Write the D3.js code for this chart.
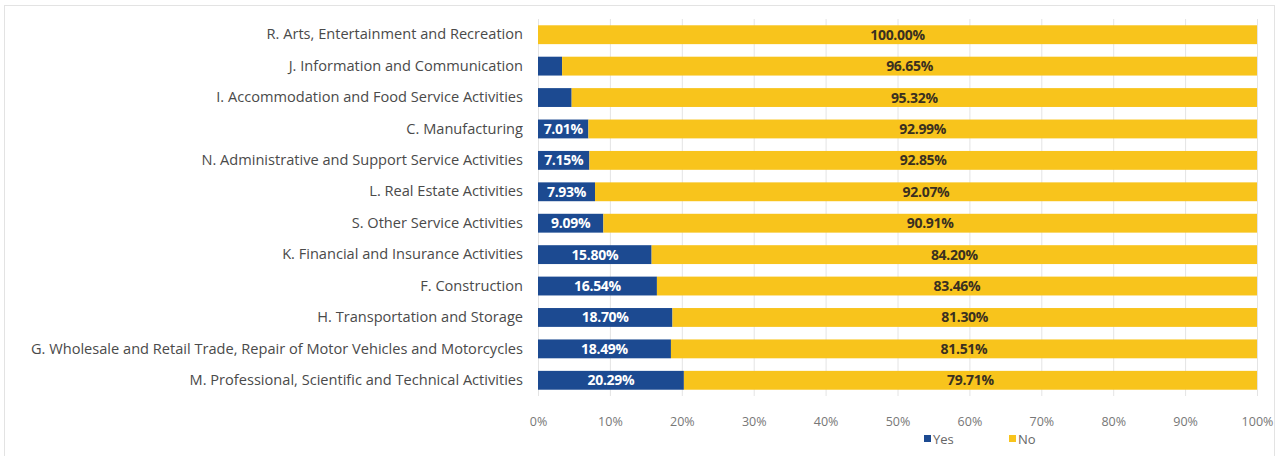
<!DOCTYPE html>
<html>
<head>
<meta charset="utf-8">
<script src="https://cdn.jsdelivr.net/npm/d3@7"></script>
<style>
  html, body { margin: 0; padding: 0; background: #fff; }
  svg { display: block; font-family: "Open Sans", "Noto Sans", sans-serif; }
</style>
</head>
<body>
<svg id="chart" width="1285" height="456"></svg>
<script>
// Industry sectors, top to bottom
const categories = [
  "R. Arts, Entertainment and Recreation",
  "J. Information and Communication",
  "I. Accommodation and Food Service Activities",
  "C. Manufacturing",
  "N. Administrative and Support Service Activities",
  "L. Real Estate Activities",
  "S. Other Service Activities",
  "K. Financial and Insurance Activities",
  "F. Construction",
  "H. Transportation and Storage",
  "G. Wholesale and Retail Trade, Repair of Motor Vehicles and Motorcycles",
  "M. Professional, Scientific and Technical Activities"
];
const yesValues = [0, 3.35, 4.68, 7.01, 7.15, 7.93, 9.09, 15.80, 16.54, 18.70, 18.49, 20.29];
const noValues  = [100.00, 96.65, 95.32, 92.99, 92.85, 92.07, 90.91, 84.20, 83.46, 81.30, 81.51, 79.71];
const seriesNames = ["Yes", "No"];
const tickValues = [0, 10, 20, 30, 40, 50, 60, 70, 80, 90, 100];

const colors = { Yes: "#1c4a91", No: "#f8c41c" };

const svg = d3.select("#chart");

// outer frame
svg.append("rect")
  .attr("x", 4.5).attr("y", 5.5)
  .attr("width", 1270).attr("height", 452)
  .attr("fill", "#fff").attr("stroke", "#e3e3e3").attr("stroke-width", 1);

const plotLeft = 538, plotRight = 1257, plotTop = 19, plotBottom = 396;

const x = d3.scaleLinear().domain([0, 100]).range([plotLeft, plotRight]);
const y = d3.scaleBand().domain(categories).range([plotTop, plotBottom]).paddingInner(0.4).paddingOuter(0.2);

// vertical gridlines
svg.append("g").selectAll("line")
  .data(tickValues)
  .join("line")
  .attr("x1", d => x(d) + 0.5).attr("x2", d => x(d) + 0.5)
  .attr("y1", plotTop).attr("y2", plotBottom)
  .attr("stroke", "#e4e4e4").attr("stroke-width", 1);

const rows = categories.map((c, i) => ({ cat: c, Yes: yesValues[i], No: noValues[i] }));
const stacked = d3.stack().keys(seriesNames)(rows);

const layers = svg.append("g").selectAll("g")
  .data(stacked)
  .join("g")
  .attr("fill", s => colors[s.key]);

layers.selectAll("rect")
  .data(s => s)
  .join("rect")
  .attr("x", d => x(d[0]))
  .attr("y", d => y(d.data.cat))
  .attr("width", d => Math.max(0, x(d[1]) - x(d[0])))
  .attr("height", y.bandwidth());

// value labels
const fmt = v => v.toFixed(2) + "%";
stacked.forEach(s => {
  svg.append("g").selectAll("text")
    .data(s.filter(d => (d[1] - d[0]) >= 7))
    .join("text")
    .attr("x", d => (x(d[0]) + x(d[1])) / 2)
    .attr("y", d => y(d.data.cat) + y.bandwidth() / 2)
    .attr("dy", "0.36em")
    .attr("text-anchor", "middle")
    .attr("font-size", 14)
    .attr("font-weight", 700)
    .attr("letter-spacing", "-0.3px")
    .attr("fill", s.key === "Yes" ? "#ffffff" : "#3a3020")
    .text(d => fmt(d[1] - d[0]));
});

// category axis
const yAxis = svg.append("g")
  .attr("transform", `translate(${plotLeft},0)`)
  .call(d3.axisLeft(y).tickSize(0).tickPadding(15));
yAxis.select(".domain").remove();
yAxis.selectAll("text")
  .attr("font-size", 14.6)
  .attr("font-family", "Open Sans, sans-serif")
  .attr("fill", "#4a4a4a");

// value axis
const xAxis = svg.append("g")
  .attr("transform", `translate(0,${plotBottom})`)
  .call(d3.axisBottom(x).tickValues(tickValues).tickFormat(d => d + "%").tickSize(0).tickPadding(21));
xAxis.select(".domain").remove();
xAxis.selectAll("text")
  .attr("font-size", 12.5)
  .attr("font-family", "Open Sans, sans-serif")
  .attr("fill", "#777");

// legend
const legendX = d3.scalePoint().domain(seriesNames).range([924, 1009]);
const legend = svg.append("g").selectAll("g")
  .data(seriesNames)
  .join("g")
  .attr("transform", d => `translate(${legendX(d)},439)`);
legend.append("rect")
  .attr("x", 0).attr("y", -4).attr("width", 7).attr("height", 7)
  .attr("fill", d => colors[d]);
legend.append("text")
  .attr("x", 9).attr("y", 0).attr("dy", "0.35em")
  .attr("font-size", 13)
  .attr("fill", "#666")
  .text(d => d);
</script>
</body>
</html>
